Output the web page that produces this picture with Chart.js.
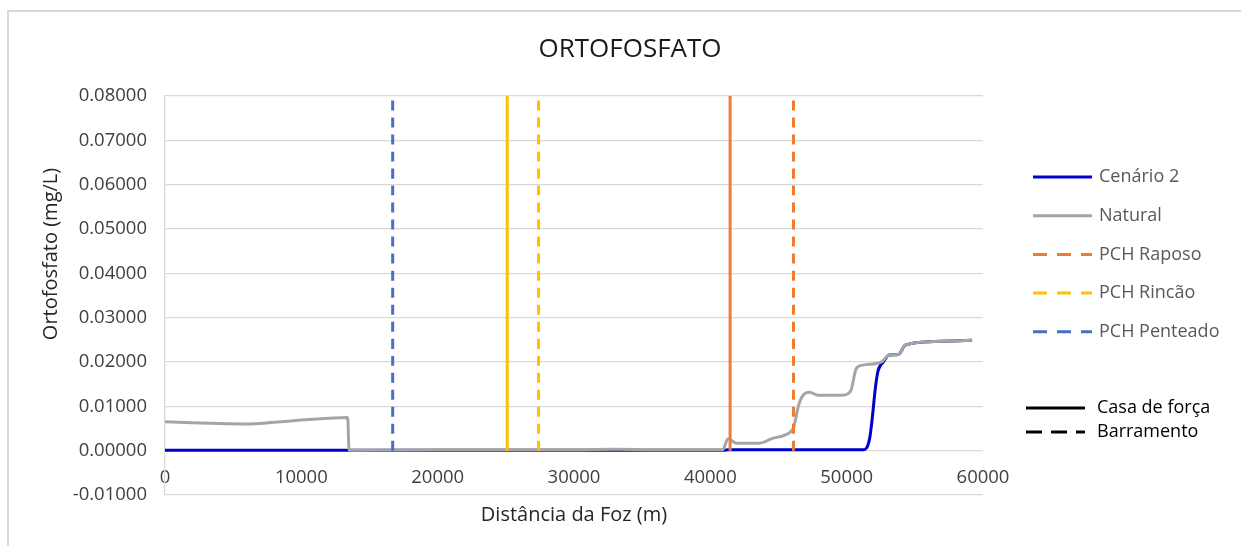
<!DOCTYPE html>
<html lang="pt">
<head>
<meta charset="utf-8">
<title>Ortofosfato</title>
<script src="https://cdn.jsdelivr.net/npm/chart.js@4.4.0/dist/chart.umd.min.js"></script>
<style>
  html, body { margin: 0; padding: 0; background: #fff; }
  canvas { display: block; }
</style>
</head>
<body>
<canvas id="chart" width="1241" height="546"></canvas>
<script>
// distância da foz (m) e concentração (mg/L)
const naturalDist = [0, 2000, 4000, 6000, 8000, 10000, 12000, 13400, 13500, 20000, 30000, 33000, 36000,
  40900, 41300, 41900, 43600, 44500, 45900, 46100, 46500, 46900, 47300, 47900,
  49700, 50300, 50700, 51200, 52600, 53100, 53800, 54300, 56400, 59200];
const naturalVal = [0.0065, 0.0063, 0.0061, 0.0060, 0.0064, 0.0069, 0.0073, 0.0075, 0.0001, 0.0002, 0.0002, 0.0003, 0.0002,
  0.0002, 0.0027, 0.0017, 0.0017, 0.0027, 0.0043, 0.0052, 0.0105, 0.0128, 0.0132, 0.0125,
  0.0125, 0.0135, 0.0185, 0.0193, 0.0201, 0.0216, 0.0217, 0.0238, 0.0246, 0.0249];

const cenarioDist = [0, 13400, 41000, 41300, 51200, 51500, 51700, 51900, 52100, 52300, 52700, 53100, 53800, 54300, 56400, 59200];
const cenarioVal = [0.0001, 0.0001, 0.0001, 0.0002, 0.0002, 0.0008, 0.0030, 0.0080, 0.0140, 0.0180, 0.0200, 0.0216, 0.0217, 0.0238, 0.0246, 0.0249];

// posição das PCHs: barramento (tracejado) e casa de força (contínuo)
const pchNames = ['PCH Raposo', 'PCH Rincão', 'PCH Penteado'];
const barramentoDist = [46100, 27400, 16700];
const casaForcaDist = [41450, 25100, null];

const xTicks = [0, 10000, 20000, 30000, 40000, 50000, 60000];
const yTicks = [-0.01, 0, 0.01, 0.02, 0.03, 0.04, 0.05, 0.06, 0.07, 0.08];

const pchColors = ['#ED7D31', '#FFC000', '#4472C4'];
const FONT = 'Open Sans';

const toPoints = (xs, ys) => xs.map((x, i) => ({ x, y: ys[i] }));
const vline = x => [{ x, y: 0 }, { x, y: yTicks[yTicks.length - 1] }];

const datasets = [
  {
    label: 'Cenário 2', data: toPoints(cenarioDist, cenarioVal),
    borderColor: '#0000CC', borderWidth: 3, order: 2
  },
  {
    label: 'Natural', data: toPoints(naturalDist, naturalVal),
    borderColor: '#A5A5A5', borderWidth: 3, order: 1
  }
];
pchNames.forEach((name, i) => {
  datasets.push({
    label: name, data: vline(barramentoDist[i]),
    borderColor: pchColors[i], borderWidth: 3, borderDash: [10, 7], order: 0
  });
  if (casaForcaDist[i] !== null) {
    datasets.push({
      label: name + ' (casa de força)', data: vline(casaForcaDist[i]),
      borderColor: pchColors[i], borderWidth: 3, order: 0
    });
  }
});
datasets.forEach(d => {
  d.showLine = true;
  d.pointRadius = 0;
  d.fill = false;
  d.cubicInterpolationMode = 'monotone';
});

const legendItems = [
  { text: 'Cenário 2', color: '#0000CC', dash: [] },
  { text: 'Natural', color: '#A5A5A5', dash: [] },
  { text: 'PCH Raposo', color: pchColors[0], dash: [14, 10] },
  { text: 'PCH Rincão', color: pchColors[1], dash: [14, 10] },
  { text: 'PCH Penteado', color: pchColors[2], dash: [14, 10] }
];
const keyItems = [
  { text: 'Casa de força', dash: [] },
  { text: 'Barramento', dash: [16, 9] }
];

const decor = {
  id: 'decor',
  beforeDraw(chart) {
    const c = chart.ctx;
    c.save();
    c.fillStyle = '#fff';
    c.fillRect(0, 0, chart.width, chart.height);
    c.strokeStyle = '#D9D9D9';
    c.lineWidth = 2;
    c.beginPath();
    c.moveTo(8, chart.height);
    c.lineTo(8, 11);
    c.lineTo(chart.width, 11);
    c.stroke();
    c.restore();
  },
  afterDraw(chart) {
    const c = chart.ctx;
    const area = chart.chartArea;
    c.save();
    c.textBaseline = 'middle';

    // título
    c.fillStyle = '#1a1a1a';
    c.textAlign = 'center';
    c.font = `26px "${FONT}"`;
    c.fillText('ORTOFOSFATO', 630, 50);

    // títulos dos eixos
    c.fillStyle = '#262626';
    c.font = `20px "${FONT}"`;
    c.fillText('Distância da Foz (m)', (area.left + area.right) / 2, 515);
    c.save();
    c.translate(51, 254);
    c.rotate(-Math.PI / 2);
    c.fillText('Ortofosfato (mg/L)', 0, 0);
    c.restore();

    // legenda
    c.textAlign = 'left';
    c.font = `18px "${FONT}"`;
    c.lineWidth = 3;
    legendItems.forEach((it, i) => {
      const y = 177 + i * 38.7;
      c.strokeStyle = it.color;
      c.setLineDash(it.dash);
      c.beginPath();
      c.moveTo(1033, y);
      c.lineTo(1092, y);
      c.stroke();
      c.fillStyle = '#595959';
      c.fillText(it.text, 1099, y);
    });
    keyItems.forEach((it, i) => {
      const y = 408 + i * 24;
      c.strokeStyle = '#000';
      c.setLineDash(it.dash);
      c.beginPath();
      c.moveTo(1026, y);
      c.lineTo(1085, y);
      c.stroke();
      c.fillStyle = '#000';
      c.fillText(it.text, 1097, y);
    });
    c.restore();
  }
};

function draw() {
  new Chart(document.getElementById('chart'), {
    type: 'scatter',
    data: { datasets },
    options: {
      responsive: false,
      animation: false,
      devicePixelRatio: 1,
      layout: { padding: { left: 0, top: 96, right: 258, bottom: 51 } },
      plugins: { legend: { display: false }, tooltip: { enabled: false } },
      scales: {
        x: {
          type: 'linear',
          position: { y: 0 },
          min: xTicks[0],
          max: xTicks[xTicks.length - 1],
          afterBuildTicks: s => { s.ticks = xTicks.map(v => ({ value: v })); },
          ticks: {
            color: '#404040',
            font: { family: FONT, size: 18.5 },
            padding: 16,
            maxRotation: 0,
            callback: v => String(v)
          },
          grid: { display: false, drawTicks: false },
          border: { display: false }
        },
        y: {
          type: 'linear',
          min: yTicks[0],
          max: yTicks[yTicks.length - 1],
          afterBuildTicks: s => { s.ticks = yTicks.map(v => ({ value: v })); },
          afterFit: s => { s.width = 165; },
          ticks: {
            color: '#404040',
            font: { family: FONT, size: 18.5 },
            padding: 18,
            callback: v => v.toFixed(5)
          },
          grid: { color: '#D9D9D9', lineWidth: 1.3, drawTicks: false },
          border: { display: true, color: '#D9D9D9', width: 1.3 }
        }
      }
    },
    plugins: [decor]
  });
}

document.fonts.load(`18px "${FONT}"`).then(draw, draw);
</script>
</body>
</html>
